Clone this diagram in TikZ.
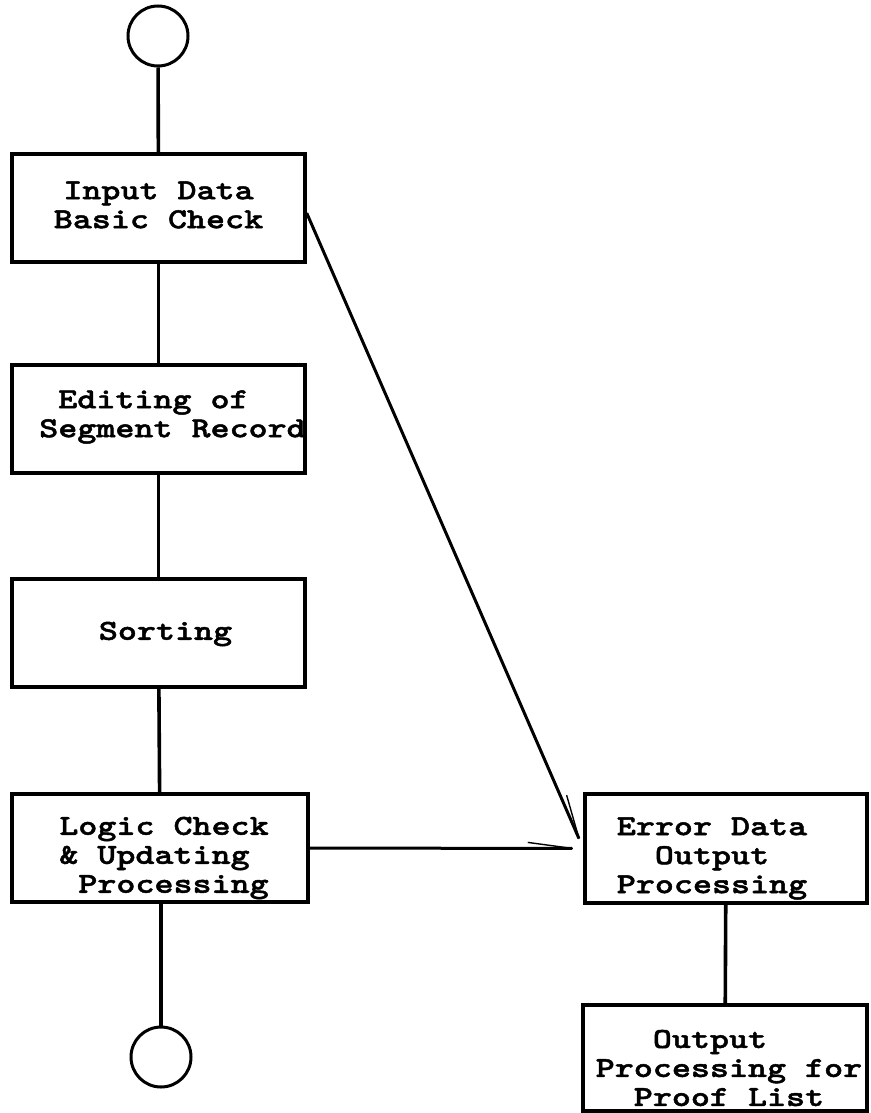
\documentclass[tikz,border=0pt]{standalone}
\usepackage{fontspec}
\newfontfamily\cmono{lmmonolt10-bold.otf}[FakeStretch=1.25,FakeBold=1.6]
\usetikzlibrary{arrows.meta}
\begin{document}
\begin{tikzpicture}[x=1pt,y=-1pt,
  procbox/.style={draw=black,line width=3.4pt,rectangle,minimum width=293pt,minimum height=108pt,inner sep=0pt},
  term/.style={draw=black,line width=3pt,circle,minimum size=60pt,inner sep=0pt},
  lbl/.style={font={\cmono\fontsize{29}{29}\selectfont\lineskiplimit=-100pt},inner sep=0pt},
  flow/.style={line width=3.6pt},
  harp/.style={line width=3pt,-{Straight Barb[left,length=45pt,width=12pt,line width=1.4pt]}}
]
\useasboundingbox (0,0) rectangle (870,1113);
\clip (0,0) rectangle (870,1113);
\fill[white] (0,0) rectangle (870,1113);

\node[term] (start) at (158,36) {};
\node[procbox] (in) at (158.5,208) {};
\node[procbox] (ed) at (158.5,419) {};
\node[procbox] (so) at (158.5,633) {};
\node[procbox,minimum width=296pt] (lo) at (160,848) {};
\node[term] (stop) at (161,1057) {};
\node[procbox,minimum width=282pt,minimum height=109pt] (er) at (726,848.5) {};
\node[procbox,minimum width=284pt,minimum height=106pt] (op) at (725,1058) {};

\node[lbl,align=center] (tin) at ([xshift=0pt,yshift=3pt]in.center) {Input Data\\Basic Check};
\node[lbl,align=left] (ted) at ([xshift=14pt,yshift=2pt]ed.center) {\ Editing of\\Segment Record};
\node[lbl] (tso) at ([xshift=7pt,yshift=-1pt]so.center) {Sorting};
\node[lbl,align=left] (tlo) at ([xshift=4pt,yshift=-10pt]lo.center) {Logic Check\\\& Updating\\\ Processing};
\node[lbl,align=center] (ter) at ([xshift=-14pt,yshift=-10pt]er.center) {Error Data\\Output\\Processing};
\node[lbl,align=left] (top) at ([xshift=4pt,yshift=-10pt]op.center) {\ \ \ Output\\Processing for\\\ \ Proof List};

\draw[flow] (start) -- (in);
\draw[flow] (in) -- (ed);
\draw[flow] (ed) -- (so);
\draw[flow] (so) -- (lo);
\draw[flow] ([xshift=1pt]lo.south) -- (stop);
\draw[flow] (er) -- (op);
\draw[harp] ([yshift=-5pt]in.east) -- (er.west);
\draw[harp] (lo.east) -- (er.west);
\end{tikzpicture}
\end{document}
